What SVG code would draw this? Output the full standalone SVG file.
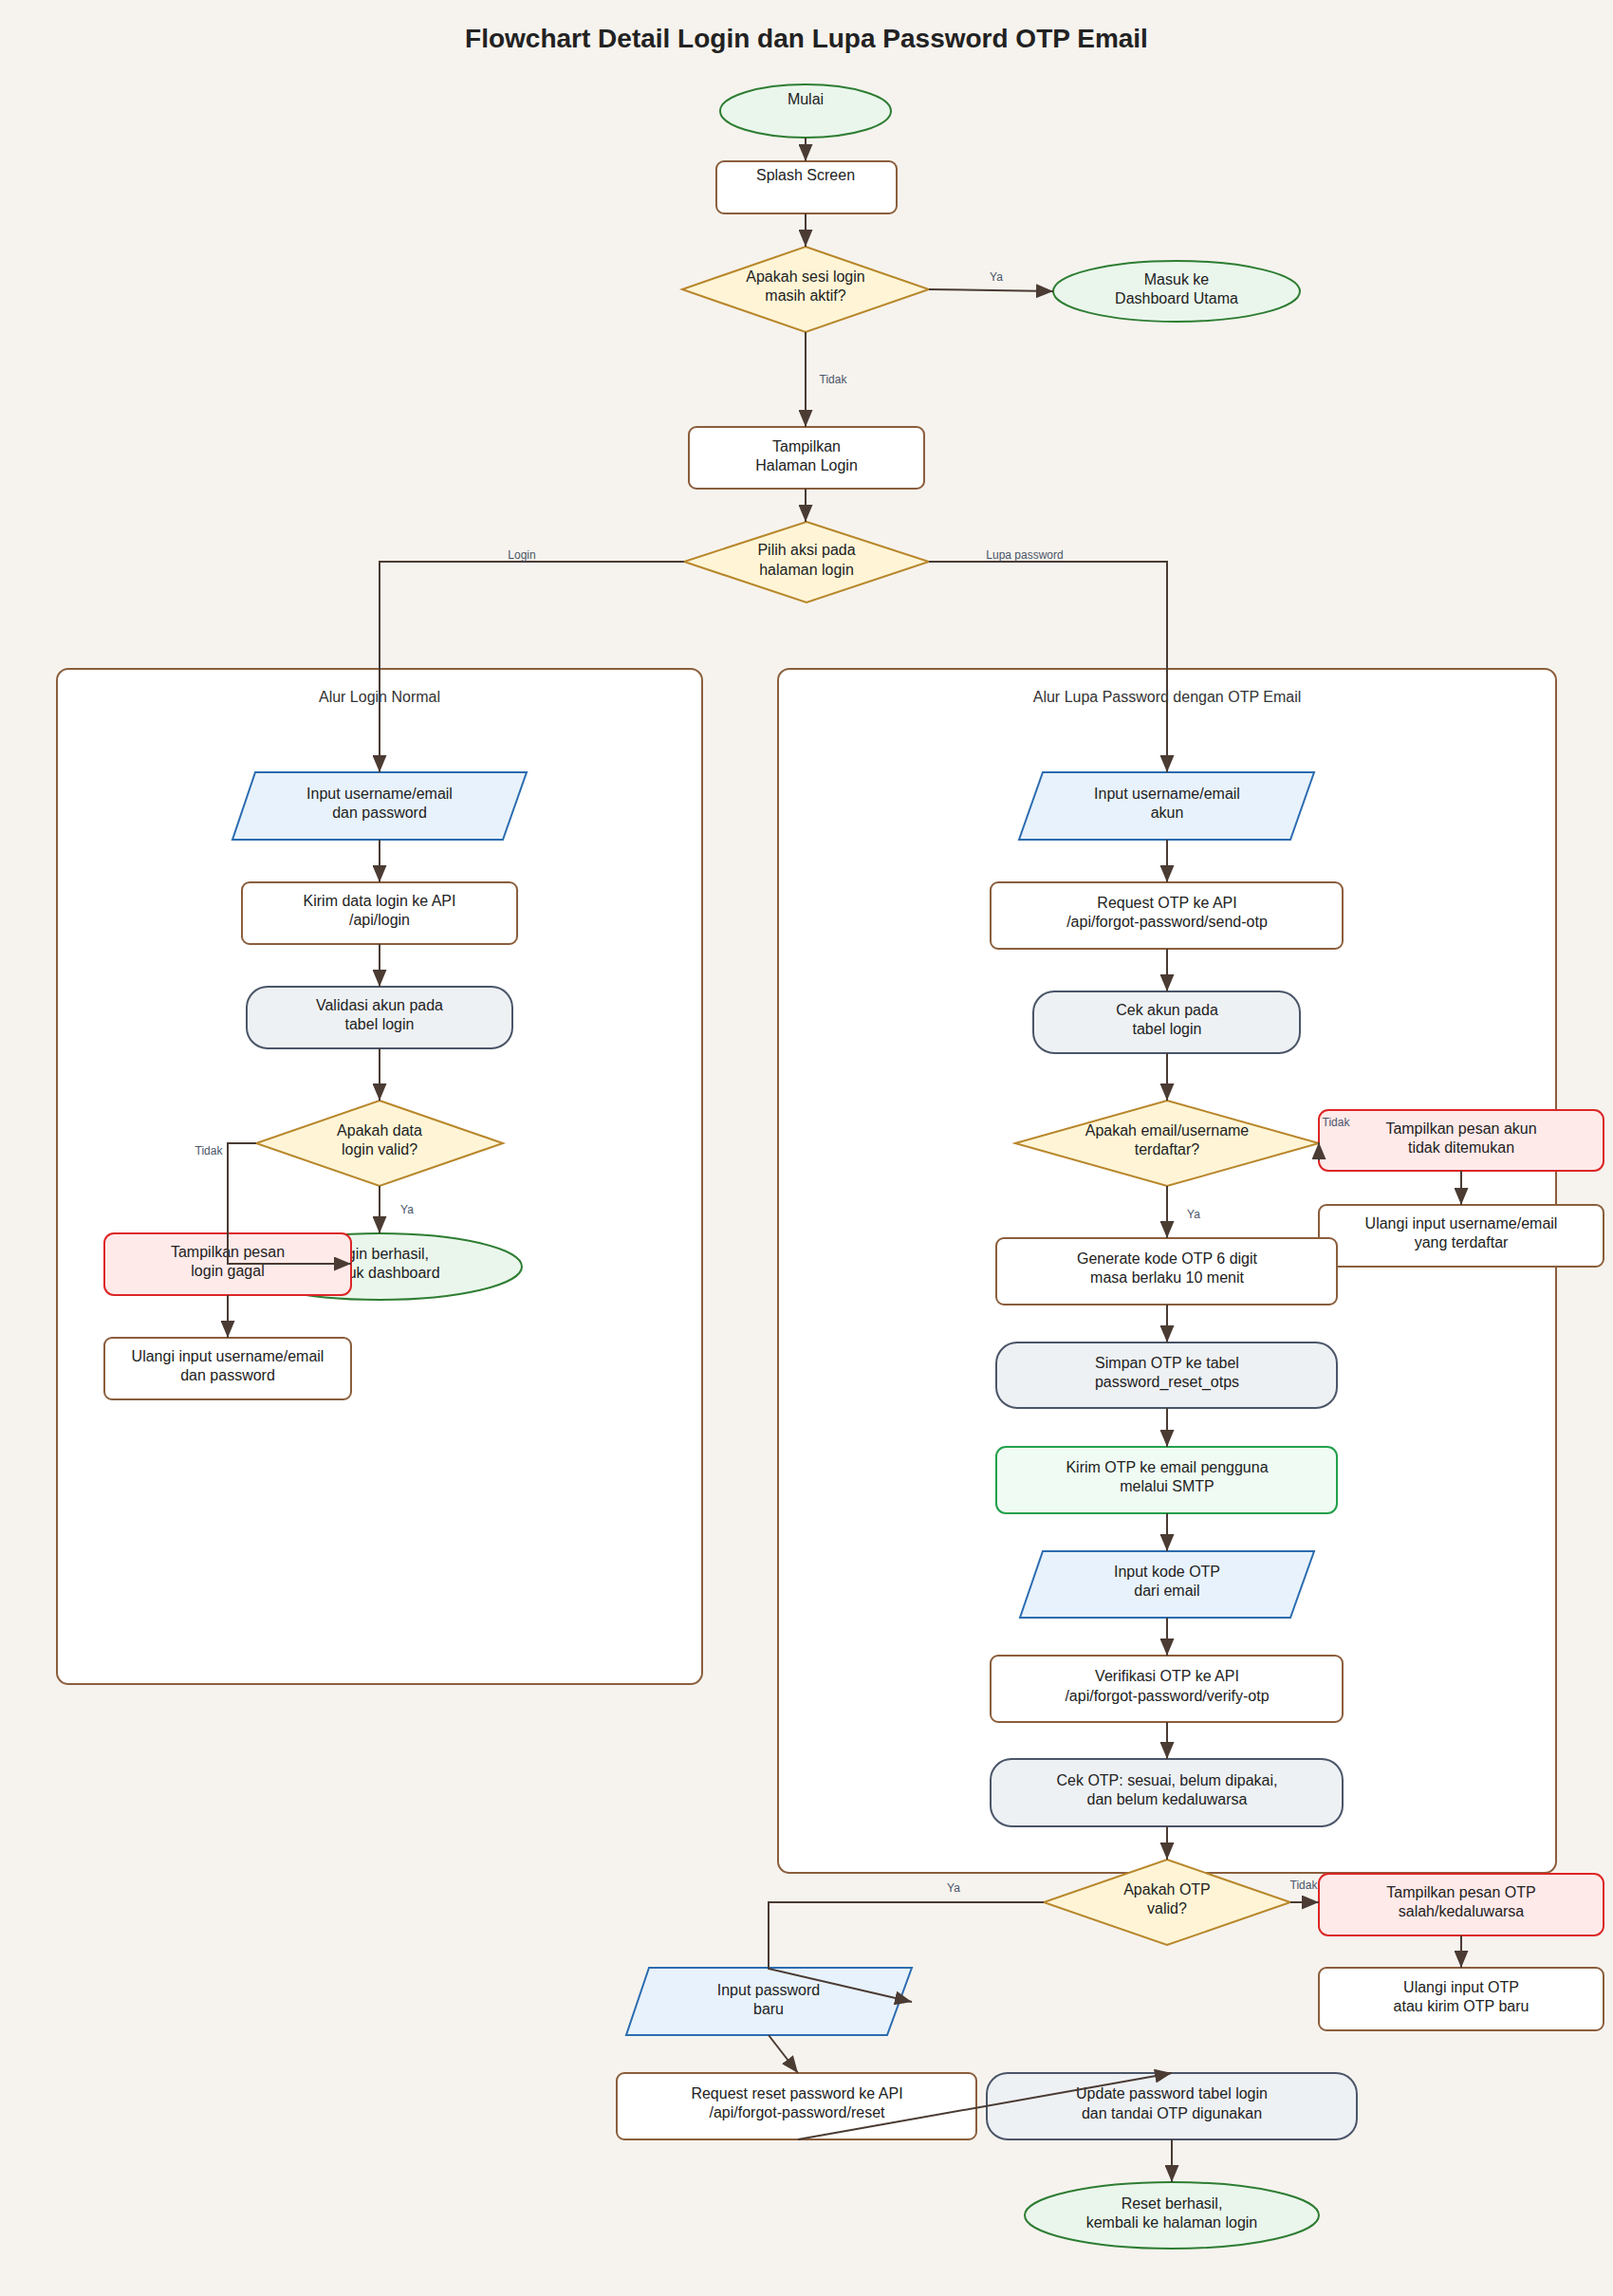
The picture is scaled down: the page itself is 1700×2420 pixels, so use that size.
<svg xmlns="http://www.w3.org/2000/svg" width="1700" height="2420" viewBox="0 0 1700 2420">
<defs>
<marker id="arr" markerUnits="userSpaceOnUse" markerWidth="18" markerHeight="15" refX="18" refY="7.5" orient="auto">
<path d="M0,0 L18,7.5 L0,15 z" fill="#4a3b33"/>
</marker>
<style>
text{font-family:"Liberation Sans",Arial,sans-serif;}
.t{font-size:16px;fill:#222;text-anchor:middle;}
.title{font-size:28px;font-weight:bold;fill:#222;text-anchor:middle;}
.ct{font-size:16px;fill:#333;text-anchor:middle;}
.lbl{font-size:12px;fill:#4a5568;text-anchor:middle;}
.cont{fill:#fff;stroke:#8b5e3c;stroke-width:2;}
.proc{fill:#fff;stroke:#8b5e3c;stroke-width:2;}
.term{fill:#eaf6ec;stroke:#2e7d32;stroke-width:2;}
.dec{fill:#fff5d6;stroke:#b8862b;stroke-width:2;}
.io{fill:#e8f2fc;stroke:#2b6cb0;stroke-width:2;}
.db{fill:#eef1f4;stroke:#4a5568;stroke-width:2;}
.err{fill:#ffeaea;stroke:#dc2626;stroke-width:2;}
.ok{fill:#effbf3;stroke:#22a04b;stroke-width:2;}
.e{fill:none;stroke:#4a3b33;stroke-width:2;marker-end:url(#arr);}
</style>
</defs>
<rect width="1700" height="2420" fill="#f6f3ee"/>
<text class="title" x="850" y="50">Flowchart Detail Login dan Lupa Password OTP Email</text>

<g id="containers">
<g id="lane-login"><rect class="cont" x="60" y="705" width="680" height="1070" rx="12"/><text class="ct" x="400" y="740">Alur Login Normal</text></g>
<g id="lane-forgot"><rect class="cont" x="820" y="705" width="820" height="1269" rx="12"/><text class="ct" x="1230" y="740">Alur Lupa Password dengan OTP Email</text></g>
</g>

<g id="nodes">
<g id="mulai"><ellipse class="term" cx="849" cy="117" rx="90" ry="28"/><text class="t" x="849" y="110">Mulai</text></g>
<g id="splash"><rect class="proc" x="755" y="170" width="190" height="55" rx="8"/><text class="t" x="849" y="190">Splash Screen</text></g>
<g id="cek-sesi"><polygon class="dec" points="849,260 979,305 849,350 719,305"/><text class="t" x="849" y="297">Apakah sesi login</text><text class="t" x="849" y="317">masih aktif?</text></g>
<g id="dashboard"><ellipse class="term" cx="1240" cy="307" rx="130" ry="32"/><text class="t" x="1240" y="300">Masuk ke</text><text class="t" x="1240" y="320">Dashboard Utama</text></g>
<g id="halaman-login"><rect class="proc" x="726" y="450" width="248" height="65" rx="8"/><text class="t" x="850" y="476">Tampilkan</text><text class="t" x="850" y="496">Halaman Login</text></g>
<g id="pilih-aksi"><polygon class="dec" points="850,550 979,592 850,635 721,592"/><text class="t" x="850" y="585">Pilih aksi pada</text><text class="t" x="850" y="606">halaman login</text></g>

<g id="input-login"><polygon class="io" points="269,814 555,814 530,885 245,885"/><text class="t" x="400" y="842">Input username/email</text><text class="t" x="400" y="862">dan password</text></g>
<g id="kirim-login"><rect class="proc" x="255" y="930" width="290" height="65" rx="8"/><text class="t" x="400" y="955">Kirim data login ke API</text><text class="t" x="400" y="975">/api/login</text></g>
<g id="validasi"><rect class="db" x="260" y="1040" width="280" height="65" rx="22"/><text class="t" x="400" y="1065">Validasi akun pada</text><text class="t" x="400" y="1085">tabel login</text></g>
<g id="login-valid"><polygon class="dec" points="400,1160 530,1205 400,1250 270,1205"/><text class="t" x="400" y="1197">Apakah data</text><text class="t" x="400" y="1217">login valid?</text></g>
<g id="login-berhasil"><ellipse class="term" cx="400" cy="1335" rx="150" ry="35"/><text class="t" x="400" y="1327">Login berhasil,</text><text class="t" x="400" y="1347">masuk dashboard</text></g>
<g id="login-gagal"><rect class="err" x="110" y="1300" width="260" height="65" rx="10"/><text class="t" x="240" y="1325">Tampilkan pesan</text><text class="t" x="240" y="1345">login gagal</text></g>
<g id="ulangi-login"><rect class="proc" x="110" y="1410" width="260" height="65" rx="8"/><text class="t" x="240" y="1435">Ulangi input username/email</text><text class="t" x="240" y="1455">dan password</text></g>

<g id="input-akun"><polygon class="io" points="1099,814 1385,814 1360,885 1074,885"/><text class="t" x="1230" y="842">Input username/email</text><text class="t" x="1230" y="862">akun</text></g>
<g id="request-otp"><rect class="proc" x="1044" y="930" width="371" height="70" rx="8"/><text class="t" x="1230" y="957">Request OTP ke API</text><text class="t" x="1230" y="977">/api/forgot-password/send-otp</text></g>
<g id="cek-akun"><rect class="db" x="1089" y="1045" width="281" height="65" rx="22"/><text class="t" x="1230" y="1070">Cek akun pada</text><text class="t" x="1230" y="1090">tabel login</text></g>
<g id="akun-terdaftar"><polygon class="dec" points="1230,1160 1390,1205 1230,1250 1070,1205"/><text class="t" x="1230" y="1197">Apakah email/username</text><text class="t" x="1230" y="1217">terdaftar?</text></g>
<g id="akun-tidak-ditemukan"><rect class="err" x="1390" y="1170" width="300" height="64" rx="10"/><text class="t" x="1540" y="1195">Tampilkan pesan akun</text><text class="t" x="1540" y="1215">tidak ditemukan</text></g>
<g id="ulangi-akun"><rect class="proc" x="1390" y="1270" width="300" height="65" rx="8"/><text class="t" x="1540" y="1295">Ulangi input username/email</text><text class="t" x="1540" y="1315">yang terdaftar</text></g>
<g id="generate-otp"><rect class="proc" x="1050" y="1305" width="359" height="70" rx="8"/><text class="t" x="1230" y="1332">Generate kode OTP 6 digit</text><text class="t" x="1230" y="1352">masa berlaku 10 menit</text></g>
<g id="simpan-otp"><rect class="db" x="1050" y="1415" width="359" height="69" rx="22"/><text class="t" x="1230" y="1442">Simpan OTP ke tabel</text><text class="t" x="1230" y="1462">password_reset_otps</text></g>
<g id="kirim-otp"><rect class="ok" x="1050" y="1525" width="359" height="70" rx="10"/><text class="t" x="1230" y="1552">Kirim OTP ke email pengguna</text><text class="t" x="1230" y="1572">melalui SMTP</text></g>
<g id="input-otp"><polygon class="io" points="1099,1635 1385,1635 1360,1705 1075,1705"/><text class="t" x="1230" y="1662">Input kode OTP</text><text class="t" x="1230" y="1682">dari email</text></g>
<g id="verifikasi-otp"><rect class="proc" x="1044" y="1745" width="371" height="70" rx="8"/><text class="t" x="1230" y="1772">Verifikasi OTP ke API</text><text class="t" x="1230" y="1793">/api/forgot-password/verify-otp</text></g>
<g id="cek-otp"><rect class="db" x="1044" y="1854" width="371" height="71" rx="22"/><text class="t" x="1230" y="1882">Cek OTP: sesuai, belum dipakai,</text><text class="t" x="1230" y="1902">dan belum kedaluwarsa</text></g>
<g id="otp-valid"><polygon class="dec" points="1230,1960 1360,2005 1230,2050 1100,2005"/><text class="t" x="1230" y="1997">Apakah OTP</text><text class="t" x="1230" y="2017">valid?</text></g>
<g id="otp-salah"><rect class="err" x="1390" y="1975" width="300" height="65" rx="10"/><text class="t" x="1540" y="2000">Tampilkan pesan OTP</text><text class="t" x="1540" y="2020">salah/kedaluwarsa</text></g>
<g id="ulangi-otp"><rect class="proc" x="1390" y="2074" width="300" height="66" rx="8"/><text class="t" x="1540" y="2100">Ulangi input OTP</text><text class="t" x="1540" y="2120">atau kirim OTP baru</text></g>
<g id="input-password"><polygon class="io" points="684,2074 961,2074 935,2145 660,2145"/><text class="t" x="810" y="2103">Input password</text><text class="t" x="810" y="2123">baru</text></g>
<g id="request-reset"><rect class="proc" x="650" y="2185" width="379" height="70" rx="8"/><text class="t" x="840" y="2212">Request reset password ke API</text><text class="t" x="840" y="2232">/api/forgot-password/reset</text></g>
<g id="update-password"><rect class="db" x="1040" y="2185" width="390" height="70" rx="22"/><text class="t" x="1235" y="2212">Update password tabel login</text><text class="t" x="1235" y="2233">dan tandai OTP digunakan</text></g>
<g id="reset-berhasil"><ellipse class="term" cx="1235" cy="2335" rx="155" ry="35"/><text class="t" x="1235" y="2328">Reset berhasil,</text><text class="t" x="1235" y="2348">kembali ke halaman login</text></g>
</g>

<g id="connectors">
<path class="e" d="M849,145 L849,170"/>
<path class="e" d="M849,225 L849,260"/>
<path class="e" d="M979,305 L1110,307"/>
<path class="e" d="M849,350 L849,450"/>
<path class="e" d="M849,515 L849,550"/>
<path class="e" d="M721,592 L400,592 L400,814"/>
<path class="e" d="M979,592 L1230,592 L1230,814"/>
<path class="e" d="M400,885 L400,930"/>
<path class="e" d="M400,995 L400,1040"/>
<path class="e" d="M400,1105 L400,1160"/>
<path class="e" d="M400,1250 L400,1300"/>
<path class="e" d="M270,1205 L240,1205 L240,1332 L370,1332"/>
<path class="e" d="M240,1365 L240,1410"/>
<path class="e" d="M1230,885 L1230,930"/>
<path class="e" d="M1230,1000 L1230,1045"/>
<path class="e" d="M1230,1110 L1230,1160"/>
<path class="e" d="M1390,1223 L1390,1204"/>
<path class="e" d="M1230,1250 L1230,1305"/>
<path class="e" d="M1540,1234 L1540,1270"/>
<path class="e" d="M1230,1375 L1230,1415"/>
<path class="e" d="M1230,1484 L1230,1525"/>
<path class="e" d="M1230,1595 L1230,1635"/>
<path class="e" d="M1230,1705 L1230,1745"/>
<path class="e" d="M1230,1815 L1230,1854"/>
<path class="e" d="M1230,1925 L1230,1960"/>
<path class="e" d="M1100,2005 L810,2005 L810,2075 L961,2110"/>
<path class="e" d="M1360,2005 L1390,2005"/>
<path class="e" d="M1540,2040 L1540,2074"/>
<path class="e" d="M810,2145 L841,2185"/>
<path class="e" d="M841,2255 L1235,2185"/>
<path class="e" d="M1235,2255 L1235,2300"/>
</g>

<g id="edge-labels">
<text class="lbl" x="1050" y="296">Ya</text>
<text class="lbl" x="878" y="404">Tidak</text>
<text class="lbl" x="550" y="589">Login</text>
<text class="lbl" x="1080" y="589">Lupa password</text>
<text class="lbl" x="429" y="1279">Ya</text>
<text class="lbl" x="220" y="1217">Tidak</text>
<text class="lbl" x="1408" y="1187">Tidak</text>
<text class="lbl" x="1258" y="1284">Ya</text>
<text class="lbl" x="1005" y="1994">Ya</text>
<text class="lbl" x="1374" y="1991">Tidak</text>
</g>
</svg>
